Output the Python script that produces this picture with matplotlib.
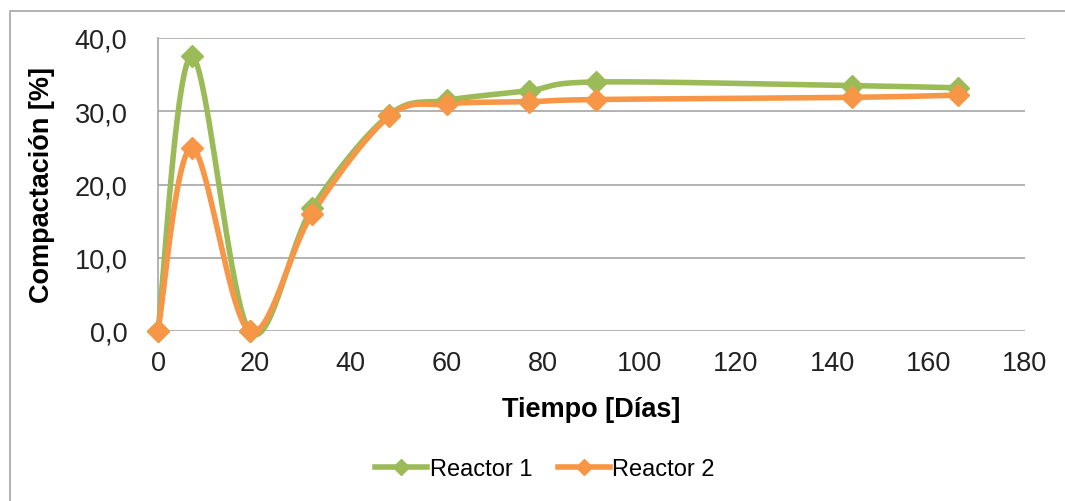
import numpy as np
import matplotlib
matplotlib.use("Agg")
import matplotlib.pyplot as plt
from matplotlib.patches import Rectangle

plt.rcParams['font.family'] = ['Liberation Sans', 'DejaVu Sans']

# Data
dias = [0, 7, 19, 32, 48, 60, 77, 91, 144, 166]
reactor1 = [0.0, 37.5, 0.0, 16.8, 29.5, 31.5, 32.8, 34.0, 33.5, 33.2]
reactor2 = [0.0, 25.0, 0.0, 16.0, 29.3, 31.0, 31.3, 31.6, 31.9, 32.2]
xticks = [0, 20, 40, 60, 80, 100, 120, 140, 160, 180]
yticks = [0, 10, 20, 30, 40]
ytick_labels = ["0,0", "10,0", "20,0", "30,0", "40,0"]

verde = "#9BBB59"
naranja = "#F79646"


# Excel-style smoothed line (Bezier through points, control = neighbour diff / 6)
def suavizar(x, y, n=40):
    p = np.column_stack([x, y]).astype(float)
    pts = [p[0]]
    for i in range(len(p) - 1):
        p0 = p[i - 1] if i > 0 else p[i]
        p1, p2 = p[i], p[i + 1]
        p3 = p[i + 2] if i + 2 < len(p) else p[i + 1]
        c1 = p1 + (p2 - p0) / 6
        c2 = p2 - (p3 - p1) / 6
        t = np.linspace(0, 1, n)[1:, None]
        seg = (1 - t) ** 3 * p1 + 3 * (1 - t) ** 2 * t * c1 + 3 * (1 - t) * t ** 2 * c2 + t ** 3 * p2
        pts.extend(seg)
    pts = np.array(pts)
    return pts[:, 0], pts[:, 1]


W, H = 1065, 502
fig = plt.figure(figsize=(W / 100, H / 100), dpi=100)

# outer chart border (runs off the right and bottom edges)
fig.patches.append(Rectangle((10 / W, -0.1), 1.2, 1 - 12 / H + 0.1, transform=fig.transFigure,
                             fill=False, edgecolor="#a6a6a6", linewidth=1.2))

ax = fig.add_axes([158 / W, 1 - 332 / H, (1025 - 158) / W, (332 - 39) / H])

for y, c, lab in [(reactor1, verde, "Reactor 1"), (reactor2, naranja, "Reactor 2")]:
    sx, sy = suavizar(dias, y)
    ax.plot(sx, sy, color=c, linewidth=4, solid_capstyle="round", zorder=3, clip_on=False)
    ax.plot(dias, y, linestyle="none", marker="D", markersize=11, color=c, zorder=4, clip_on=False)
    ax.plot([], [], color=c, linewidth=4, marker="D", markersize=8, label=lab)

ax.set_xlim(0, 180)
ax.set_ylim(0, 40)
ax.set_xticks(xticks)
ax.set_yticks(yticks)
ax.set_yticklabels(ytick_labels)
ax.tick_params(length=0, labelsize=19.5, colors="#222222")
ax.tick_params(axis="x", pad=14)
ax.tick_params(axis="y", pad=22)
ax.grid(axis="y", color="#a6a6a6", linewidth=1.2)
ax.set_axisbelow(True)
for s in ["top", "right", "bottom"]:
    ax.spines[s].set_visible(False)
ax.spines["left"].set_color("#a6a6a6")
ax.spines["left"].set_linewidth(1.2)

ax.set_xlabel("Tiempo [Días]", fontsize=19.5, fontweight="bold", labelpad=14)
ax.set_ylabel("Compactación [%]", fontsize=19.5, fontweight="bold", labelpad=14)
ax.patch.set_alpha(0)

fig.legend(loc="center", bbox_to_anchor=(545 / W, 1 - 470 / H), ncol=2, frameon=False,
           fontsize=17, handlelength=2.2, handletextpad=0.1, columnspacing=1.1)

fig.savefig("out.png", dpi=100)
